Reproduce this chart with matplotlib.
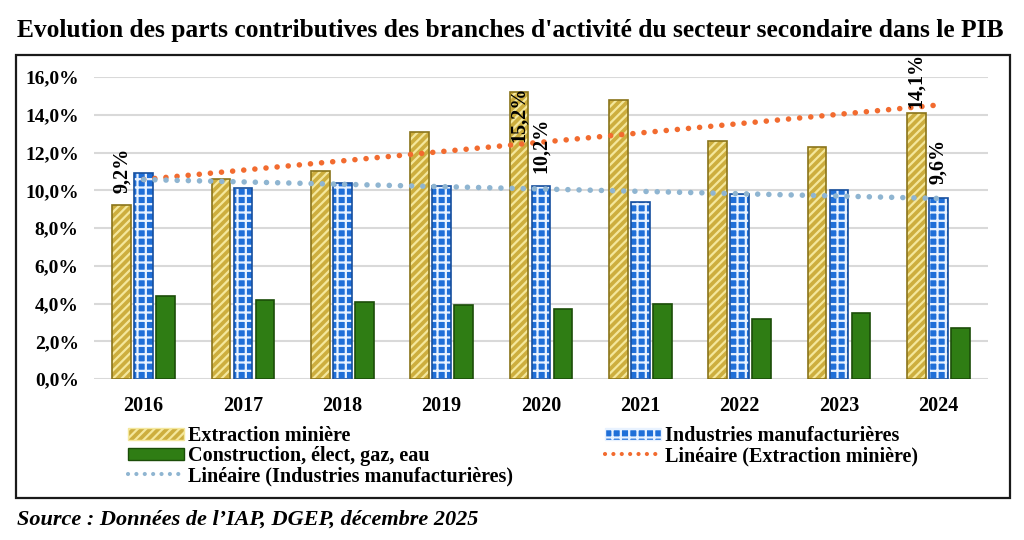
import matplotlib
matplotlib.use('Agg')
import matplotlib.pyplot as plt
from matplotlib.patches import Patch, Rectangle
from matplotlib.lines import Line2D
from matplotlib.ticker import FuncFormatter
import numpy as np

# data (% of GDP)
years = ['2016', '2017', '2018', '2019', '2020', '2021', '2022', '2023', '2024']
extraction = [9.2, 10.6, 11.0, 13.1, 15.2, 14.8, 12.6, 12.3, 14.1]
industries = [10.9, 10.1, 10.4, 10.2, 10.2, 9.4, 9.8, 10.0, 9.6]
construction = [4.4, 4.2, 4.1, 3.9, 3.7, 4.0, 3.2, 3.5, 2.7]

# which bars carry a value label: (series, year index)
labelled = [('extraction', 0), ('extraction', 4), ('industries', 4),
            ('extraction', 8), ('industries', 8)]

plt.rcParams['font.family'] = ['Liberation Serif', 'DejaVu Serif']
plt.rcParams['font.weight'] = 'bold'
plt.rcParams['hatch.linewidth'] = 1.6

fig = plt.figure(figsize=(10.24, 5.4), dpi=100)
ax = fig.add_axes([94/1024, 1-379/540, (988-94)/1024, (379-77)/540])

x = np.arange(len(years))
w = 0.19
off = 0.222

# colours
ext_face, ext_hatch, ext_edge = '#cdae3e', '#f4e79c', '#8a741a'
ind_face, ind_hatch, ind_edge = '#1f6fd8', '#e8f2ff', '#174f9e'
con_face, con_edge = '#2f7d14', '#1b4d08'
orange = '#f26b2f'
lightblue = '#8fb5d1'

# bars: fill + hatch, then outline
ax.bar(x - off, extraction, w, color=ext_face, edgecolor=ext_hatch, hatch='////', linewidth=0, zorder=2)
ax.bar(x - off, extraction, w, fill=False, edgecolor=ext_edge, linewidth=1.2, zorder=3)
ax.bar(x, industries, w, color=ind_face, edgecolor=ind_hatch, hatch='++', linewidth=0, zorder=2)
ax.bar(x, industries, w, fill=False, edgecolor=ind_edge, linewidth=1.2, zorder=3)
ax.bar(x + off, construction, w, color=con_face, edgecolor=con_edge, linewidth=1.2, zorder=2)

# linear trend lines
dots = (0, (0.01, 2.0))
p_ext = np.polyfit(x, extraction, 1)
p_ind = np.polyfit(x, industries, 1)
ax.plot(x, np.polyval(p_ext, x), color=orange, lw=4, linestyle=dots, dash_capstyle='round', zorder=4)
ax.plot(x, np.polyval(p_ind, x), color=lightblue, lw=4, linestyle=dots, dash_capstyle='round', zorder=4)

# value labels
series = {'extraction': (extraction, -off), 'industries': (industries, 0)}
lift = [12, -50, 13, 5, 14]
for (name, i), dy in zip(labelled, lift):
    vals, dx = series[name]
    ax.annotate(f'{vals[i]:.1f}%'.replace('.', ','), (x[i] + dx, vals[i]),
                xytext=(0, dy), textcoords='offset pixels', rotation=90,
                ha='center', va='bottom', fontsize=14.5, fontweight='bold', zorder=6)

ax.set_xlim(-0.5, len(years) - 0.5)
ax.set_ylim(0, 16)
ax.set_yticks(np.arange(0, 16.1, 2))
ax.yaxis.set_major_formatter(FuncFormatter(lambda v, p: f'{v:.1f}%'.replace('.', ',')))
ax.set_xticks(x)
ax.set_xticklabels(years)
ax.tick_params(axis='y', length=0, pad=11, labelsize=14)
ax.tick_params(axis='x', length=0, pad=12, labelsize=14.5)
ax.grid(axis='y', color='#d9d9d9', lw=1.5, zorder=0)
for s in ax.spines.values():
    s.set_visible(False)
ax.set_facecolor('none')

# legend (two blocks)
h_ext = Patch(facecolor=ext_face, edgecolor=ext_hatch, hatch='////')
h_ind = Patch(facecolor=ind_face, edgecolor=ind_hatch, hatch='++')
h_con = Patch(facecolor=con_face, edgecolor=con_edge)
h_lo = Line2D([], [], color=orange, lw=3, linestyle=dots, dash_capstyle='round')
h_lb = Line2D([], [], color=lightblue, lw=3, linestyle=dots, dash_capstyle='round')
leg_kw = dict(loc='upper left', frameon=False, fontsize=14.5, handlelength=2.8,
              handleheight=0.6, handletextpad=0.2, labelspacing=0.0, borderpad=0, borderaxespad=0)
fig.legend([h_ext, h_con, h_lb],
           ['Extraction minière', 'Construction, élect, gaz, eau', 'Linéaire (Industries manufacturières)'],
           bbox_to_anchor=(128/1024, 1-426/540), **leg_kw)
fig.legend([h_ind, h_lo],
           ['Industries manufacturières', 'Linéaire (Extraction minière)'],
           bbox_to_anchor=(605/1024, 1-426/540), **leg_kw)

# frame around the chart
fig.add_artist(Rectangle((16/1024, 1-498/540), (1010-16)/1024, (498-55)/540,
                         transform=fig.transFigure, fill=False, edgecolor='#1a1a1a', lw=1.6))

fig.text(17/1024, 1-31/540, "Evolution des parts contributives des branches d'activité du secteur secondaire dans le PIB",
         fontsize=18.4, fontweight='bold', va='center', ha='left')
fig.text(17/1024, 1-520/540, 'Source : Données de l’IAP, DGEP, décembre 2025',
         fontsize=16, fontweight='bold', fontstyle='italic', va='center', ha='left')

fig.savefig('out.png', dpi=100)
